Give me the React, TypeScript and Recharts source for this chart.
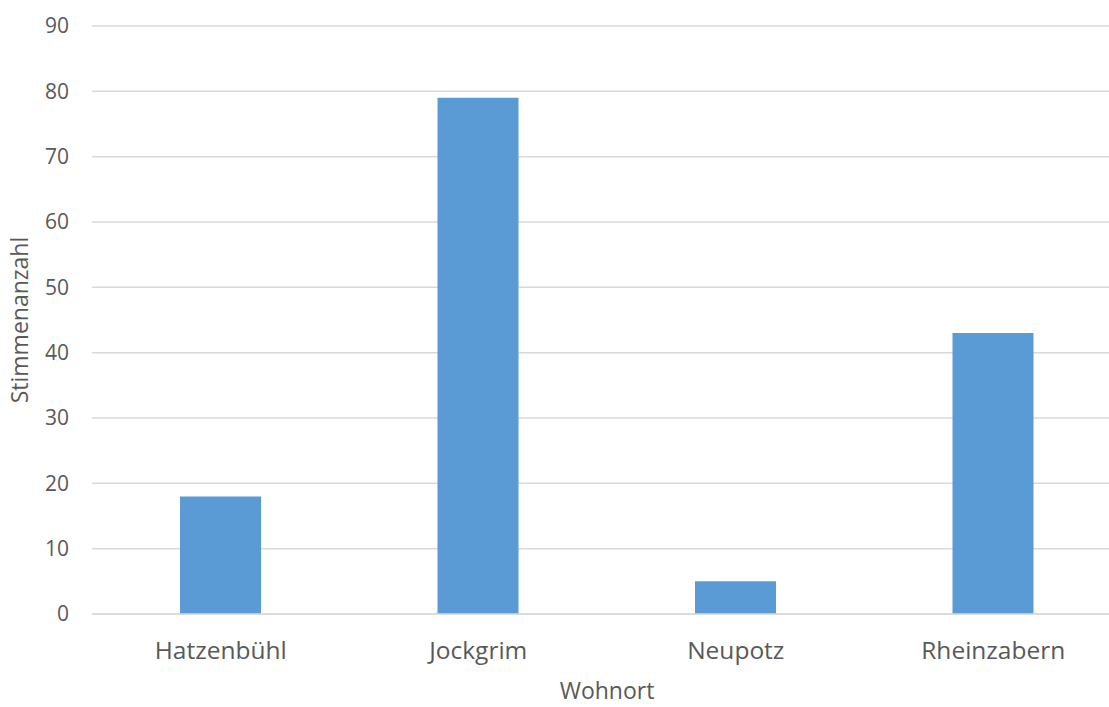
import { BarChart, Bar, XAxis, YAxis, CartesianGrid } from 'recharts'

const places = ['Hatzenbühl', 'Jockgrim', 'Neupotz', 'Rheinzabern']
const votes = [18, 79, 5, 43]
const yTicks = [0, 10, 20, 30, 40, 50, 60, 70, 80, 90]

const data = places.map((place, i) => ({ place, votes: votes[i] }))

const font = '"Open Sans", sans-serif'
const grey = '#595959'

export default function App() {
  return (
    <div style={{ position: 'absolute', left: 0, top: 0, width: 1109, height: 707, overflow: 'hidden', background: '#fff' }}>
      <BarChart
        width={1122}
        height={707}
        data={data}
        margin={{ top: 26, right: 0, left: 0, bottom: 0 }}
        style={{ fontFamily: font }}
      >
        <CartesianGrid vertical={false} stroke="#d9d9d9" strokeWidth={1.5} />
        <XAxis
          dataKey="place"
          height={93}
          tickLine={false}
          tickSize={0}
          tickMargin={28}
          axisLine={{ stroke: '#d9d9d9', strokeWidth: 1.5 }}
          tick={{ fill: grey, fontSize: 24.5, fontFamily: font }}
          label={{ value: 'Wohnort', position: 'insideBottom', offset: 8, fill: grey, fontSize: 23, fontFamily: font }}
        />
        <YAxis
          width={92}
          domain={[0, 90]}
          ticks={yTicks}
          interval={0}
          axisLine={false}
          tickLine={false}
          tickSize={0}
          tickMargin={23}
          tick={{ fill: grey, fontSize: 21, fontFamily: font }}
          label={{ value: 'Stimmenanzahl', angle: -90, position: 'center', dx: -26, fill: grey, fontSize: 23, fontFamily: font }}
        />
        <Bar dataKey="votes" fill="#5b9bd5" barSize={81} isAnimationActive={false} />
      </BarChart>
    </div>
  )
}
